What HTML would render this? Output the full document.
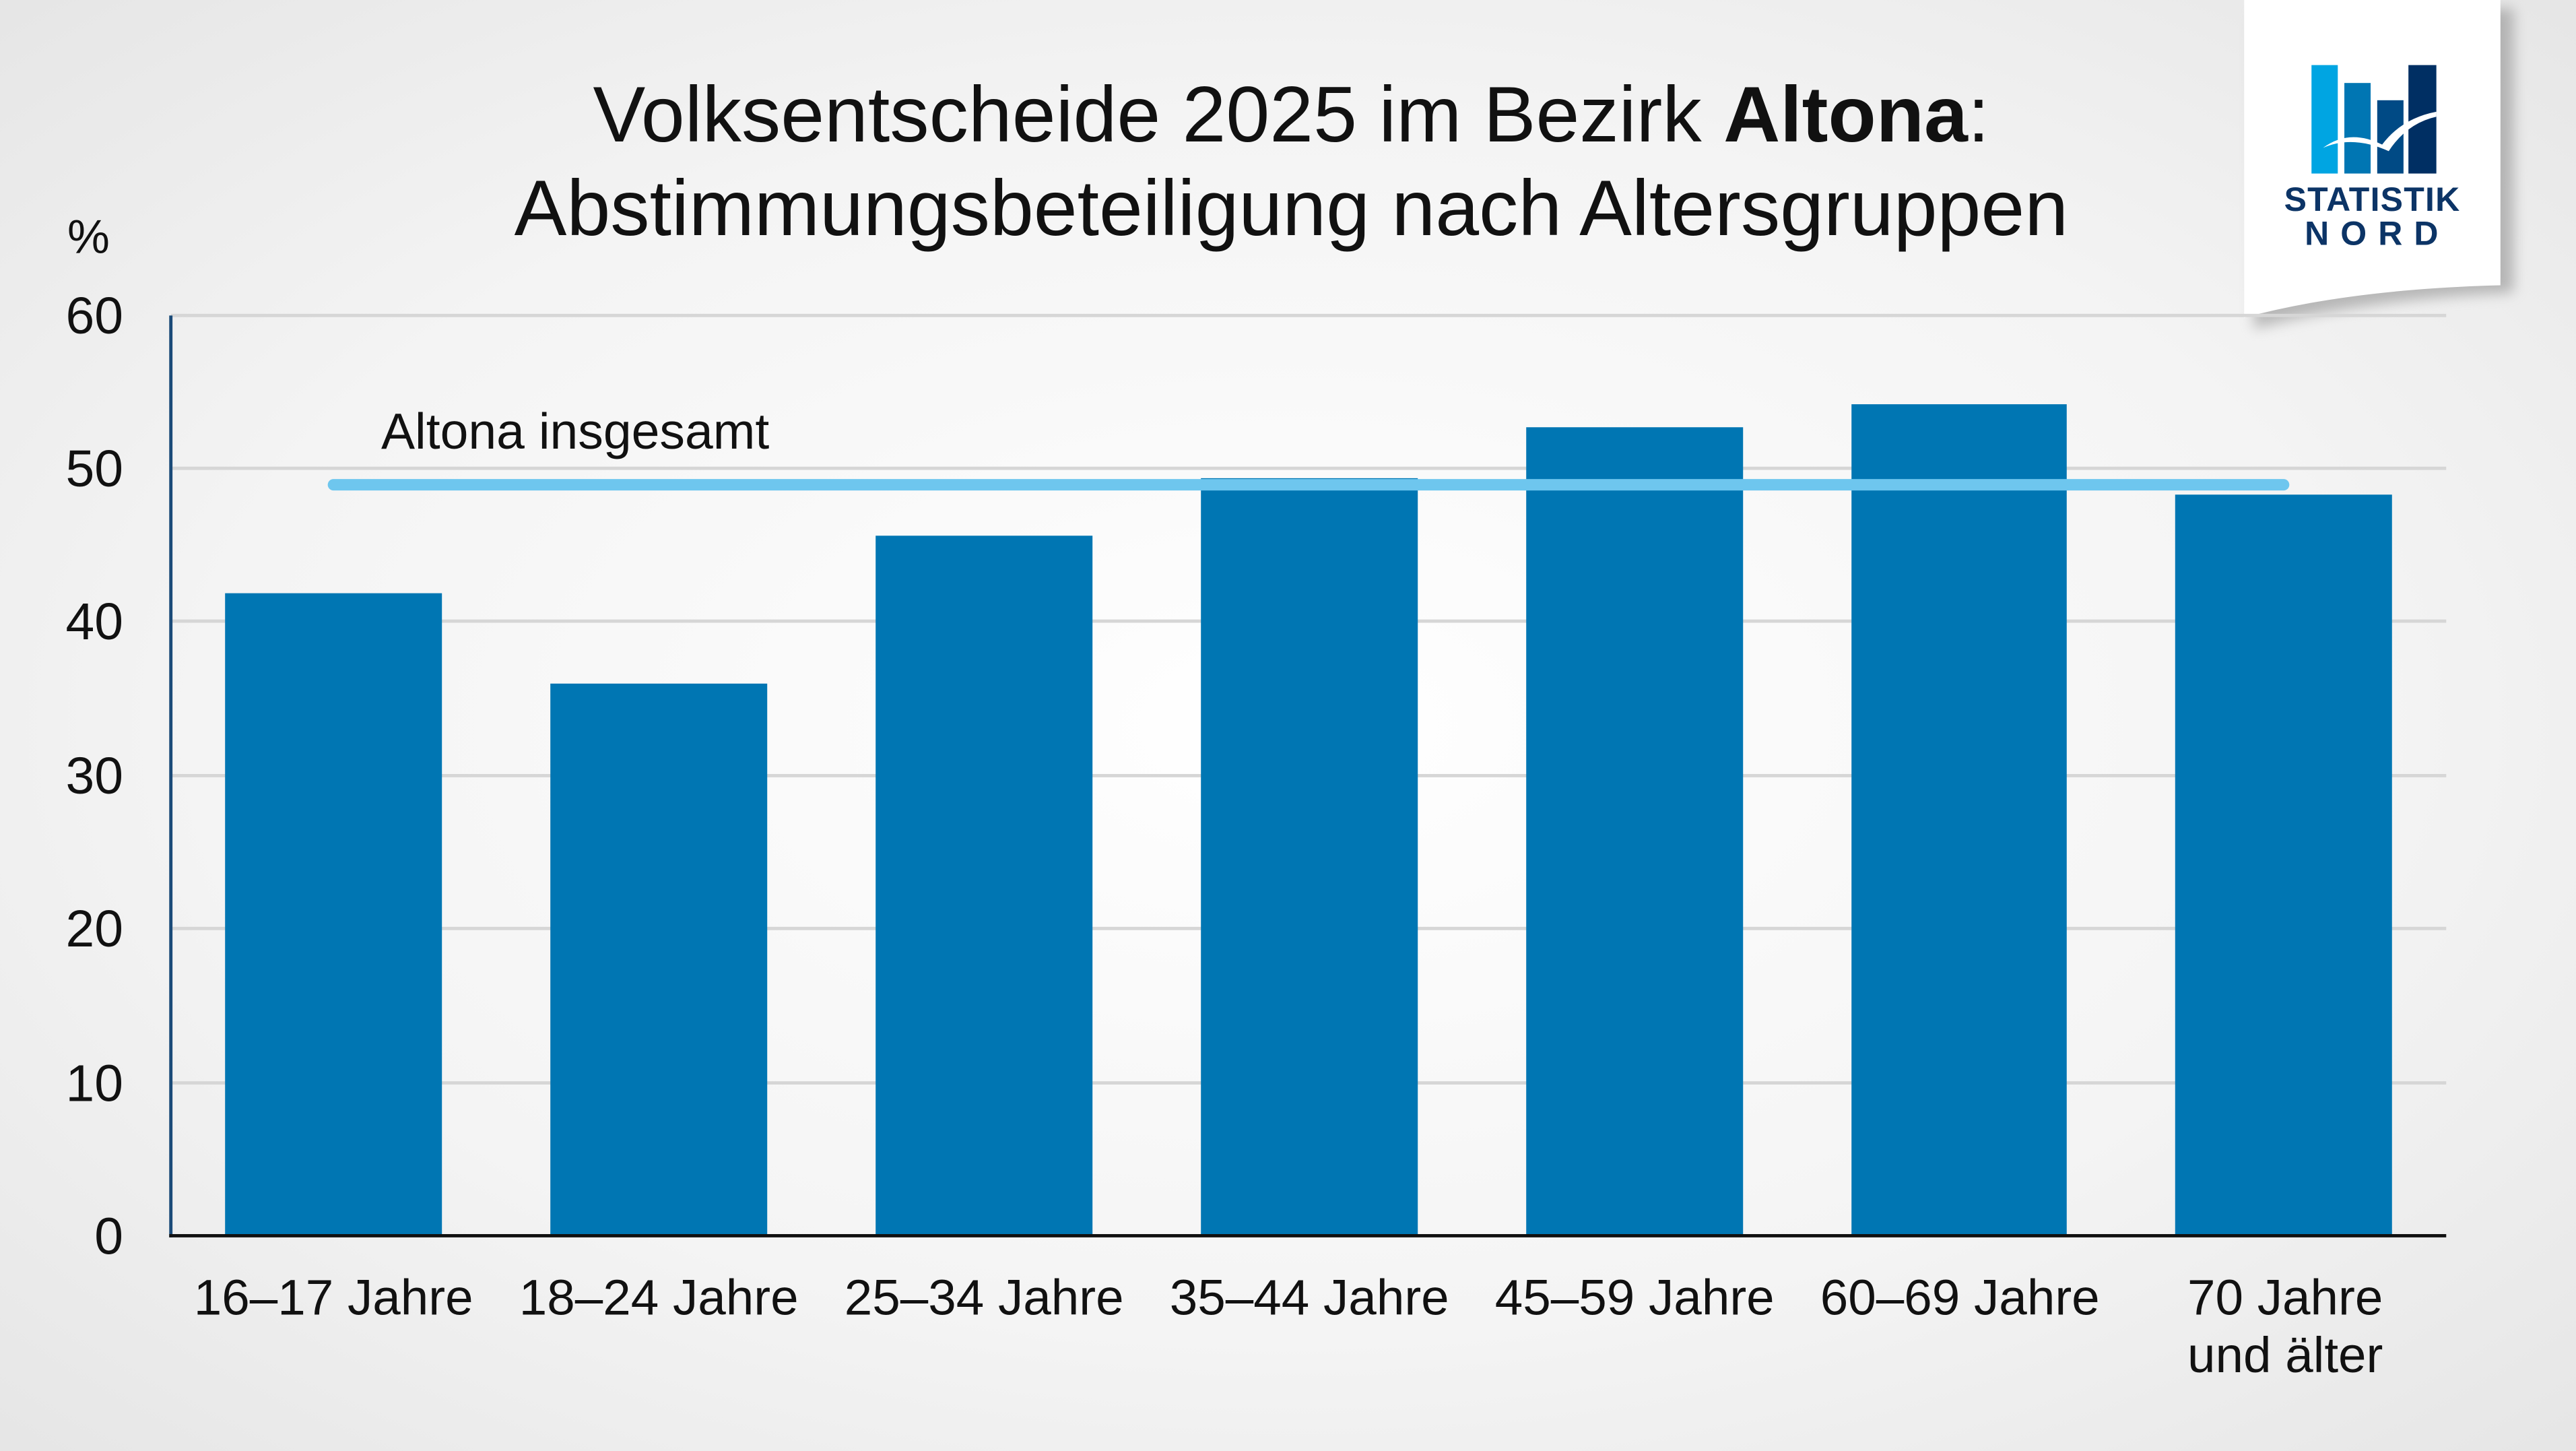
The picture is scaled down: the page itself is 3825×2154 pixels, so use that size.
<!DOCTYPE html>
<html><head><meta charset="utf-8"><style>
html,body{margin:0;padding:0;width:3825px;height:2154px;overflow:hidden;}
svg{display:block;}
text{font-family:"Liberation Sans",Arial,sans-serif;}
</style></head><body>
<svg width="3825" height="2154" viewBox="0 0 1568 883" preserveAspectRatio="none" xmlns="http://www.w3.org/2000/svg">
<defs>
<radialGradient id="bg" cx="0.5" cy="0.5" r="0.7">
<stop offset="0" stop-color="#ffffff"/><stop offset="0.6" stop-color="#f4f4f4"/><stop offset="1" stop-color="#e6e6e6"/>
</radialGradient>
<filter id="sh" x="-20%" y="-20%" width="150%" height="150%"><feGaussianBlur stdDeviation="4"/></filter>
</defs>
<rect width="1568" height="883" fill="url(#bg)"/>
<path d="M1372,8 L1530,5 L1530,178 Q1440,182 1372,200 Z" fill="#888" opacity="0.55" filter="url(#sh)"/>
<path d="M1366,0 L1522,0 L1522,173.6 Q1430,176 1366,193.3 Z" fill="#ffffff"/>
<rect x="1407" y="39.6" width="16" height="66" fill="#00a5e2"/>
<rect x="1427" y="50.5" width="16" height="55.1" fill="#0076b3"/>
<rect x="1447" y="61" width="16" height="44.6" fill="#004a85"/>
<rect x="1466" y="39.6" width="17" height="66" fill="#002f63"/>
<path d="M1414,90 Q1430,78 1450,88 Q1462,72 1483,68 L1483,71 Q1465,75 1454,92 Q1432,82 1414,90 Z" fill="#ffffff"/>
<text x="1444" y="128.4" font-size="20.5" font-weight="bold" fill="#0c3466" text-anchor="middle" letter-spacing="0.5">STATISTIK</text>
<text x="1447" y="149" font-size="20.5" font-weight="bold" fill="#0c3466" text-anchor="middle" letter-spacing="7">NORD</text>
<text x="786" y="86" font-size="47.8" fill="#111" text-anchor="middle">Volksentscheide 2025 im Bezirk <tspan font-weight="bold">Altona</tspan>:</text>
<text x="786" y="143" font-size="47.8" fill="#111" text-anchor="middle">Abstimmungsbeteiligung nach Altersgruppen</text>
<text x="41" y="154" font-size="29" fill="#111">%</text>
<g stroke="#d6d6d6" stroke-width="2">
<line x1="104" y1="192" x2="1489" y2="192"/><line x1="104" y1="285" x2="1489" y2="285"/>
<line x1="104" y1="378" x2="1489" y2="378"/><line x1="104" y1="472" x2="1489" y2="472"/>
<line x1="104" y1="565" x2="1489" y2="565"/><line x1="104" y1="659" x2="1489" y2="659"/>
</g>
<g font-size="31.5" fill="#111" text-anchor="end">
<text x="75" y="203">60</text><text x="75" y="296">50</text><text x="75" y="389">40</text>
<text x="75" y="483">30</text><text x="75" y="576">20</text><text x="75" y="670">10</text><text x="75" y="763">0</text>
</g>
<g fill="#0076b3">
<rect x="137" y="361" width="132" height="391"/>
<rect x="335" y="416" width="132" height="336"/>
<rect x="533" y="326" width="132" height="426"/>
<rect x="731" y="291" width="132" height="461"/>
<rect x="929" y="260" width="132" height="492"/>
<rect x="1127" y="246" width="131" height="506"/>
<rect x="1324" y="301" width="132" height="451"/>
</g>
<line x1="104" y1="192" x2="104" y2="753" stroke="#1a4a78" stroke-width="2"/>
<line x1="103" y1="752" x2="1489" y2="752" stroke="#111" stroke-width="2"/>
<line x1="203" y1="295" x2="1390" y2="295" stroke="#6ec6ee" stroke-width="7" stroke-linecap="round"/>
<text x="232" y="273" font-size="30.8" fill="#111">Altona insgesamt</text>
<g font-size="30.6" fill="#111" text-anchor="middle">
<text x="203" y="800">16–17 Jahre</text><text x="401" y="800">18–24 Jahre</text>
<text x="599" y="800">25–34 Jahre</text><text x="797" y="800">35–44 Jahre</text>
<text x="995" y="800">45–59 Jahre</text><text x="1193" y="800">60–69 Jahre</text>
<text x="1391" y="800">70 Jahre</text><text x="1391" y="835">und älter</text>
</g>
</svg>
</body></html>
